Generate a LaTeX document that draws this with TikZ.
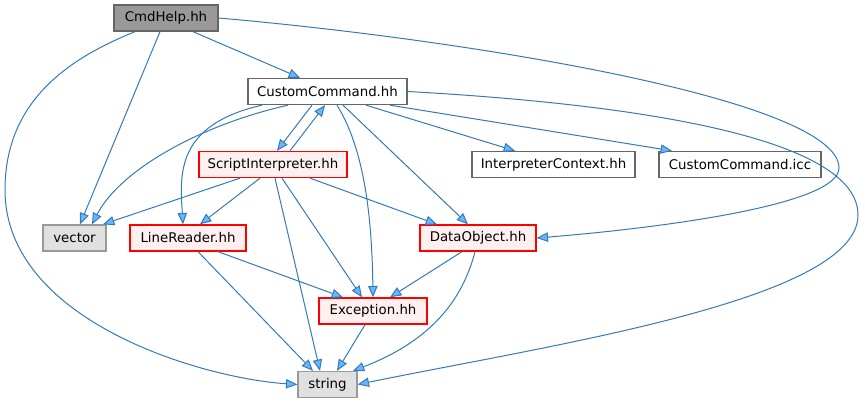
\documentclass[tikz,border=0pt]{standalone}
\usepackage{fontspec}
\setmainfont{DejaVu Sans}
\usetikzlibrary{arrows.meta}
\definecolor{edgeblue}{HTML}{3479B8}
\definecolor{tipblue}{HTML}{63B8FF}
\definecolor{boxgray}{HTML}{666666}
\definecolor{sysgray}{HTML}{999999}
\definecolor{sysfill}{HTML}{E0E0E0}
\definecolor{redfill}{HTML}{FFF0F0}

\begin{document}
\begin{tikzpicture}[x=0.75pt, y=-0.75pt,
    file/.style={draw=boxgray, line width=1pt, fill=white, minimum height=19.5pt,
      inner sep=0pt, font=\fontsize{10}{12}\selectfont, text=black},
    current/.style={file, fill=sysgray},
    internal/.style={file, draw=red, fill=redfill},
    system/.style={file, draw=sysgray, fill=sysfill},
    dep/.style={-{Triangle[length=8.5pt,width=7pt,fill=tipblue]}, draw=edgeblue, line width=0.75pt},
  ]
  \useasboundingbox (0,0) rectangle (865,403);

  % ---------------------------------------------------------------- files
  \node[current, minimum width=78pt]      (cmd) at (166,18)    {CmdHelp.hh};
  \node[file, minimum width=119.25pt]     (cc)  at (327.5,91.5) {CustomCommand.hh};
  \node[internal, minimum width=111pt]    (si)  at (273,164.5) {ScriptInterpreter.hh};
  \node[file, minimum width=122.25pt]     (ic)  at (553.5,164.5) {InterpreterContext.hh};
  \node[file, minimum width=121.5pt]      (icc) at (740,164.5) {CustomCommand.icc};
  \node[system, minimum width=47.25pt]    (vec) at (74.5,238)  {vector};
  \node[internal, minimum width=87pt]     (lr)  at (188,238)   {LineReader.hh};
  \node[internal, minimum width=87pt]     (dob) at (478,238)   {DataObject.hh};
  \node[internal, minimum width=81pt]     (exc) at (373,311)   {Exception.hh};
  \node[system, minimum width=44.25pt]    (str) at (327.5,384.5) {string};

  % ---------------------------------------------------------------- CmdHelp.hh
  \draw[dep] (cmd.south -| 193,0) -- (cc.north -| 300,0);
  \draw[dep] (cmd.south -| 160,0) -- (vec.north -| 80,0);
  \draw[dep] (cmd.south -| 135,0) .. controls (70,58) and (5,100) .. (5,190)
    .. controls (5,320) and (200,378) .. (str.west);
  \draw[dep] (cmd.east) .. controls (470,40) and (839,100) .. (839,168)
    .. controls (839,205) and (660,228) .. (dob.east);

  % ---------------------------------------------------------------- CustomCommand.hh
  \draw[dep] (cc.south -| 312,0) -- (si.north -| 277,0);
  \draw[dep] (cc.south -| 288,0) .. controls (200,125) and (120,170) .. (vec.north -| 92,0);
  \draw[dep] (cc.south -| 262,0) .. controls (175,125) and (180,175) .. (lr.north -| 183,0);
  \draw[dep] (cc.south -| 337,0) .. controls (365,150) and (372,220) .. (exc.north);
  \draw[dep] (cc.south -| 343,0) -- (dob.north -| 468,0);
  \draw[dep] (cc.south -| 366,0) -- (ic.north -| 515,0);
  \draw[dep] (cc.south -| 390,0) -- (icc.north -| 672,0);
  \draw[dep] (cc.east) .. controls (650,105) and (858,140) .. (858,215)
    .. controls (858,300) and (550,345) .. (str.east);

  % ---------------------------------------------------------------- ScriptInterpreter.hh
  \draw[dep] (si.north -| 290,0) -- (cc.south -| 325,0);
  \draw[dep] (si.south -| 240,0) -- (vec.north -| 103,0);
  \draw[dep] (si.south -| 260,0) -- (lr.north -| 200,0);
  \draw[dep] (si.south -| 275,0) -- (str.north -| 320,0);
  \draw[dep] (si.south -| 282,0) -- (exc.north -| 362,0);
  \draw[dep] (si.south -| 310,0) -- (dob.north -| 437,0);

  % ---------------------------------------------------------------- the rest
  \draw[dep] (lr.south -| 218,0) -- (exc.north -| 343,0);
  \draw[dep] (lr.south -| 198,0) -- (str.north -| 313,0);
  \draw[dep] (dob.south -| 462,0) -- (exc.north -| 390,0);
  \draw[dep] (dob.south -| 475,0) .. controls (460,310) and (420,345) .. (str.north -| 353,0);
  \draw[dep] (exc.south -| 365,0) -- (str.north -| 337,0);
\end{tikzpicture}
\end{document}
